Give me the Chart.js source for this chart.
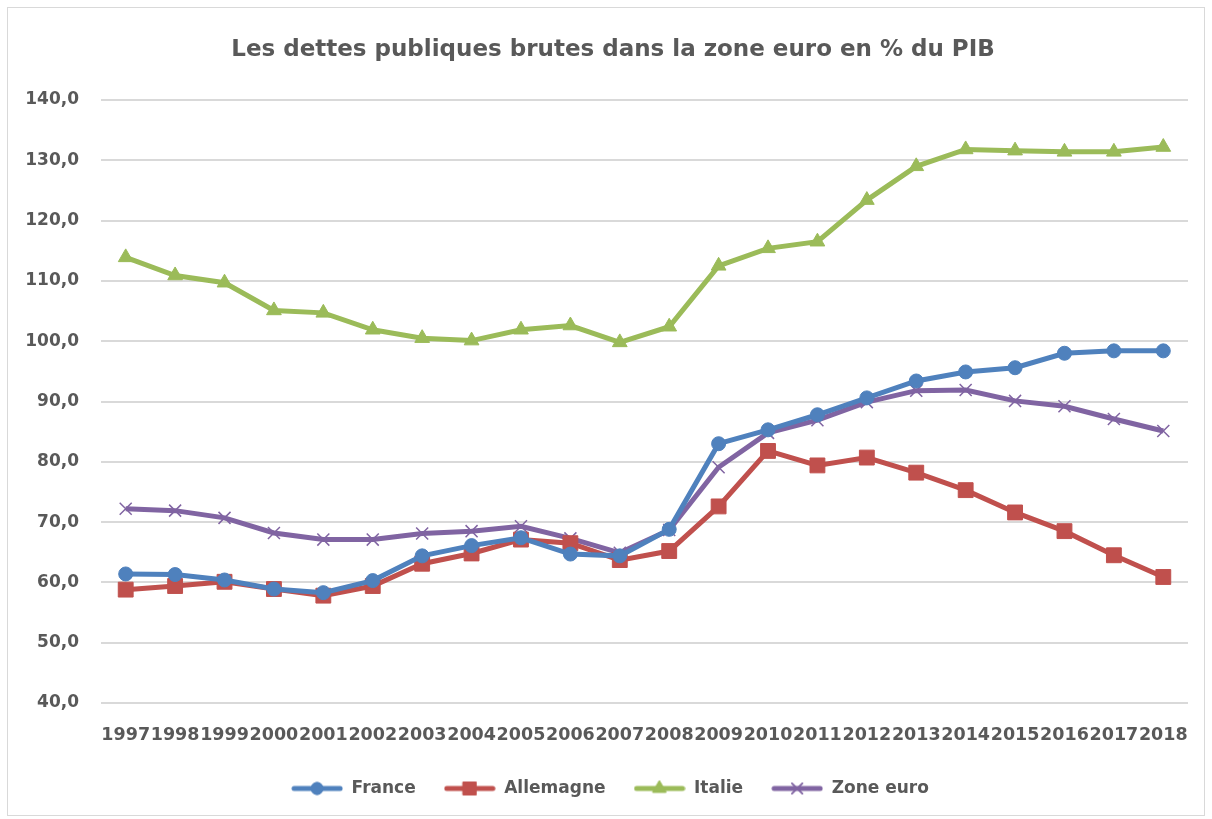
<!DOCTYPE html>
<html>
<head>
<meta charset="utf-8">
<script src="https://cdn.jsdelivr.net/npm/chart.js@4.4.0/dist/chart.umd.min.js"></script>
<style>
  html, body { margin: 0; padding: 0; background: #fff; }
  #box { width: 1212px; height: 819px; }
</style>
</head>
<body>
<div id="box"><canvas id="dettes"></canvas></div>
<script>
// donnees
const annees = ['1997','1998','1999','2000','2001','2002','2003','2004','2005','2006','2007',
  '2008','2009','2010','2011','2012','2013','2014','2015','2016','2017','2018'];
const france = [61.4, 61.3, 60.4, 58.9, 58.3, 60.3, 64.4, 66.1, 67.4, 64.7, 64.4,
  68.8, 83.0, 85.3, 87.8, 90.6, 93.4, 94.9, 95.6, 98.0, 98.4, 98.4];
const allemagne = [58.8, 59.4, 60.1, 58.9, 57.8, 59.4, 63.1, 64.8, 67.1, 66.5, 63.7,
  65.2, 72.6, 81.8, 79.4, 80.7, 78.2, 75.3, 71.6, 68.5, 64.5, 60.9];
const italie = [113.9, 110.9, 109.7, 105.1, 104.7, 101.9, 100.5, 100.1, 101.9, 102.6, 99.8,
  102.4, 112.5, 115.4, 116.5, 123.4, 129.0, 131.8, 131.6, 131.4, 131.4, 132.2];
const zoneEuro = [72.2, 71.9, 70.7, 68.2, 67.1, 67.1, 68.1, 68.5, 69.3, 67.3, 64.9,
  68.7, 79.1, 84.8, 86.9, 89.9, 91.8, 91.9, 90.1, 89.2, 87.1, 85.1];
const ticksY = [40, 50, 60, 70, 80, 90, 100, 110, 120, 130, 140];

const gris = '#595959';
const police = 'DejaVu Sans';

// petite image ligne + marqueur pour la legende
function iconeLegende(couleur, style, rayon) {
  const c = document.createElement('canvas');
  c.width = 52; c.height = 20;
  const ctx = c.getContext('2d');
  ctx.strokeStyle = couleur;
  ctx.lineWidth = 5;
  ctx.lineCap = 'round';
  ctx.beginPath();
  ctx.moveTo(3, 10); ctx.lineTo(49, 10);
  ctx.stroke();
  ctx.fillStyle = couleur;
  ctx.lineWidth = style === 'crossRot' ? 1.5 : 1;
  Chart.helpers.drawPoint(ctx, { pointStyle: style, radius: rayon, borderWidth: ctx.lineWidth }, 26, 10);
  if (style !== 'crossRot') ctx.fill();
  ctx.stroke();
  return c;
}

function serie(label, data, couleur, style, rayon) {
  return {
    label: label,
    data: data,
    borderColor: couleur,
    backgroundColor: couleur,
    borderWidth: 5,
    pointStyle: style,
    pointRadius: rayon,
    pointHoverRadius: rayon,
    pointBorderWidth: style === 'crossRot' ? 1.5 : 1,
    pointBorderColor: couleur,
    pointBackgroundColor: couleur,
    tension: 0,
    legendIcon: iconeLegende(couleur, style, style === 'rect' ? 9 : rayon - 1)
  };
}

// cadre autour du graphique + titre/legende centres sur toute la largeur
const cadre = {
  id: 'cadre',
  afterLayout(chart) {
    if (chart.legend) { chart.legend.left += 16; chart.legend.right += 16; }
    if (chart.titleBlock) { chart.titleBlock.left += 19; chart.titleBlock.right += 19; }
  },
  beforeDraw(chart) {
    const ctx = chart.ctx;
    ctx.save();
    ctx.fillStyle = '#fff';
    ctx.fillRect(0, 0, chart.width, chart.height);
    ctx.strokeStyle = '#d9d9d9';
    ctx.lineWidth = 1;
    ctx.strokeRect(7.5, 7.5, 1197, 808);
    ctx.restore();
  }
};

new Chart(document.getElementById('dettes'), {
  type: 'line',
  data: {
    labels: annees,
    datasets: [
      serie('France', france, '#4f81bd', 'circle', 7),
      serie('Allemagne', allemagne, '#c0504d', 'rect', 10.5),
      serie('Italie', italie, '#9bbb59', 'triangle', 8.5),
      serie('Zone euro', zoneEuro, '#8064a2', 'crossRot', 8.5)
    ]
  },
  plugins: [cadre],
  options: {
    responsive: true,
    maintainAspectRatio: false,
    animation: false,
    layout: { padding: { left: 0, right: 24, top: 0, bottom: 12 } },
    scales: {
      x: {
        offset: true,
        grid: { display: false },
        border: { display: false },
        ticks: {
          autoSkip: false,
          maxRotation: 0,
          padding: 14,
          color: gris,
          font: { family: police, size: 17.5, weight: 'bold' }
        },
        afterFit(scale) { scale.height = 49; }
      },
      y: {
        min: 40,
        max: 140,
        afterBuildTicks(scale) { scale.ticks = ticksY.map(v => ({ value: v })); },
        grid: { color: '#d9d9d9', lineWidth: 2, drawTicks: false },
        border: { display: false },
        ticks: {
          padding: 22,
          color: gris,
          font: { family: police, size: 17, weight: 'bold' },
          callback: v => v.toFixed(1).replace('.', ',')
        },
        afterFit(scale) { scale.width = 101; }
      }
    },
    plugins: {
      title: {
        display: true,
        text: 'Les dettes publiques brutes dans la zone euro en % du PIB',
        color: gris,
        font: { family: police, size: 23, weight: 'bold' },
        padding: { top: 36, bottom: 36.4 }
      },
      legend: {
        position: 'bottom',
        labels: {
          usePointStyle: true,
          pointStyleWidth: 52,
          padding: 28,
          color: gris,
          font: { family: police, size: 17, weight: 'bold' },
          generateLabels(chart) {
            return chart.data.datasets.map((ds, i) => ({
              text: ds.label,
              pointStyle: ds.legendIcon,
              fillStyle: ds.borderColor,
              strokeStyle: ds.borderColor,
              fontColor: gris,
              lineWidth: 0,
              hidden: false,
              datasetIndex: i
            }));
          }
        }
      },
      tooltip: { enabled: false }
    }
  }
});
</script>
</body>
</html>
